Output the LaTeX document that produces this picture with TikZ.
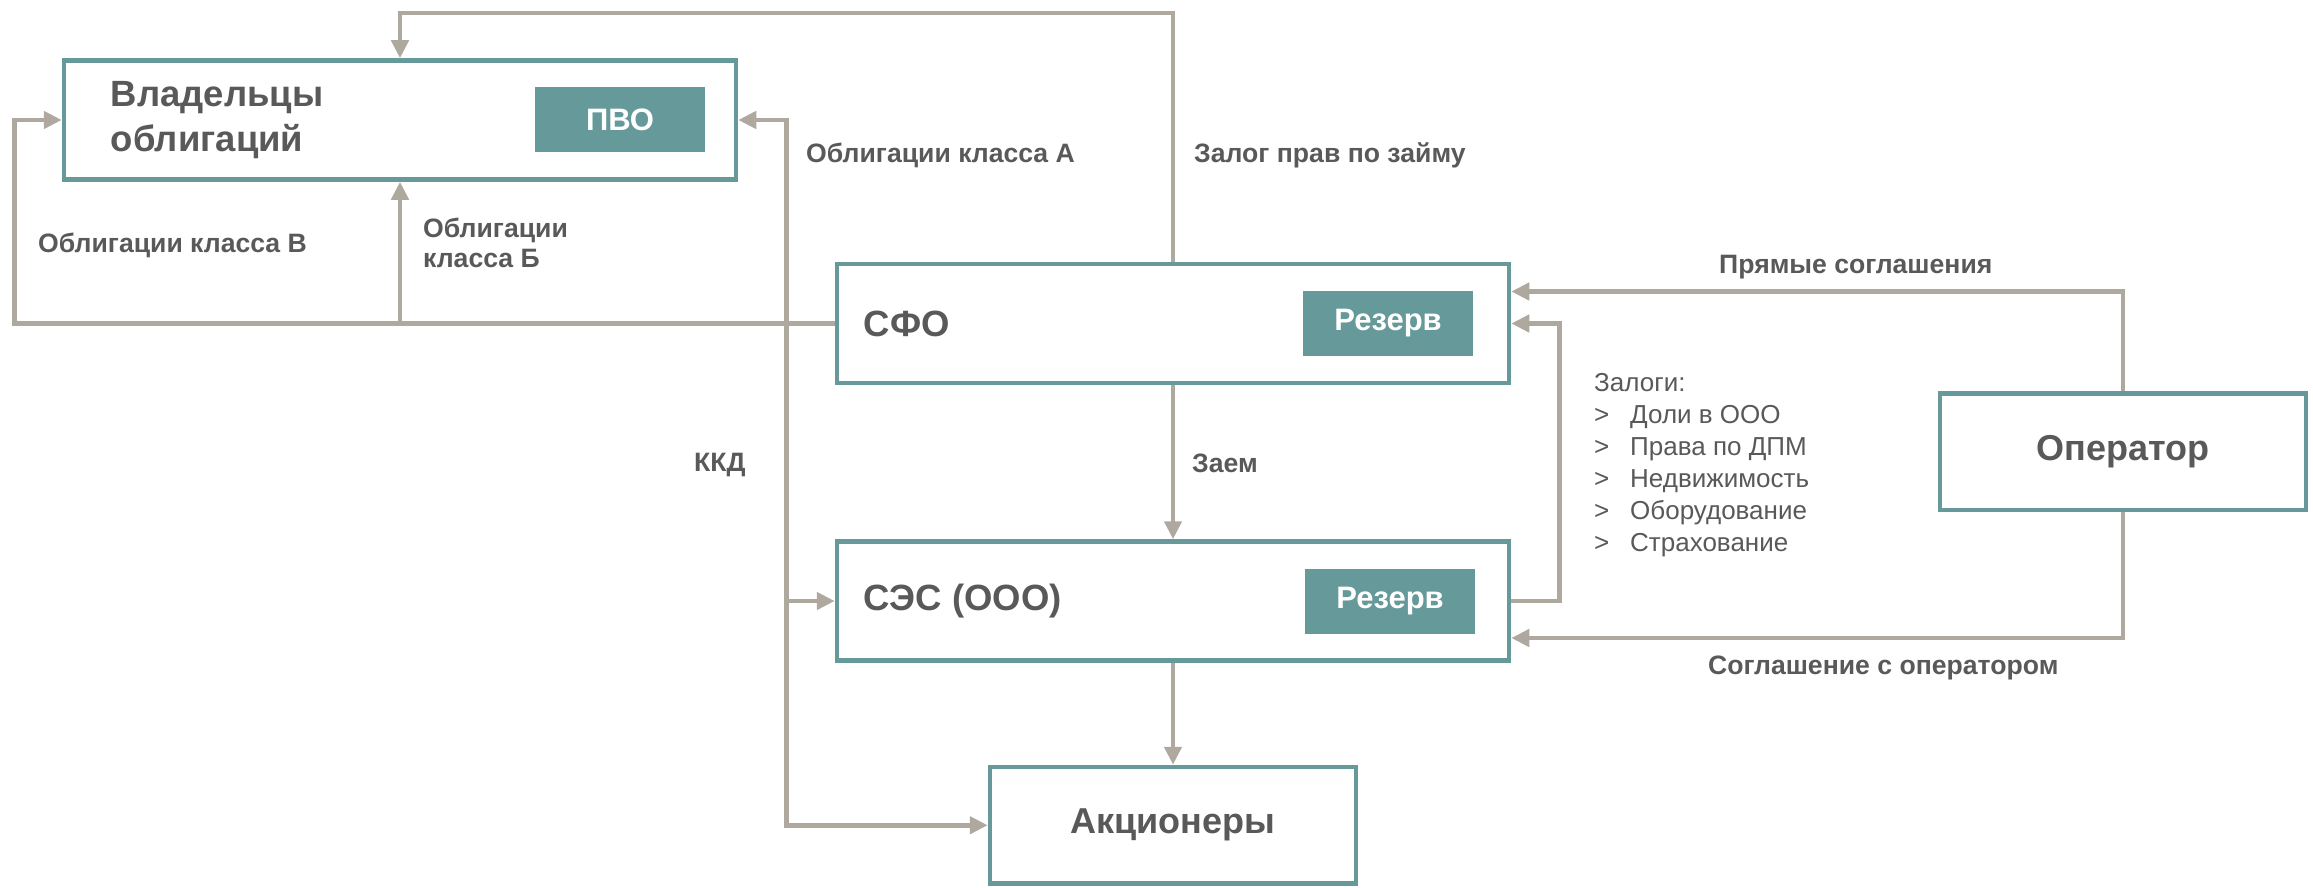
\documentclass[tikz,border=0pt]{standalone}
\usepackage{fontspec}
\setmainfont{Liberation Sans}
\usepackage{xcolor}
\usetikzlibrary{arrows.meta,positioning,calc}

\definecolor{tealbox}{RGB}{102,153,153}
\definecolor{flowgray}{RGB}{174,168,159}
\definecolor{txtgray}{RGB}{89,89,89}

\newcommand{\zmark}{\makebox[36pt][l]{\mdseries >}}

\begin{document}
\begin{tikzpicture}[
    x=1pt, y=-1pt,
    text=txtgray,
    box/.style   = {draw=tealbox, line width=4.5pt, fill=white, inner sep=0pt},
    party/.style = {box, minimum width=672pt, minimum height=119pt},
    small/.style = {box, minimum width=366pt, minimum height=116.5pt,
                    font=\fontsize{36}{43}\selectfont\bfseries},
    resv/.style  = {fill=tealbox, text=white, minimum width=170pt,
                    minimum height=65pt, inner sep=0pt,
                    font=\fontsize{31}{37}\selectfont\bfseries},
    title/.style = {inner sep=0pt, align=left,
                    font=\fontsize{36.5}{45}\selectfont\bfseries},
    lbl/.style   = {inner sep=0pt, align=left, anchor=west,
                    font=\fontsize{26.6}{30}\selectfont\bfseries},
    lst/.style   = {inner sep=0pt, align=left, anchor=west,
                    font=\fontsize{26}{32}\selectfont},
    arr/.style   = {-{Triangle[length=18pt,width=17pt]}, line width=4.7pt, flowgray},
]
\useasboundingbox (0,0) rectangle (2313,888);

% ============ Row 1: bond holders ============
\node[party] (own) at (400,120) {};
\node[title, right=49pt of own.west] (ownt) {Владельцы\\облигаций};
\node[resv, left=33pt of own.east] (pvo) {ПВО};

% ============ Row 2: SPV ============
\node[party] (sfo) at (1173,323.5) {};
\node[title, right=29pt of sfo.west] (sfot) {СФО};
\node[resv, left=38pt of sfo.east] (sfores) {Резерв};

% ============ Row 3: solar plant ============
\node[party, below=154pt of sfo] (ses) {};
\node[title, right=29pt of ses.west] (sest) {СЭС (ООО)};
\node[resv, left=36pt of ses.east] (sesres) {Резерв};

% ============ Row 4: shareholders, operator ============
\node[small, below=102pt of ses] (share) {Акционеры};
\node[small] (oper) at (2123,451.5) {Оператор};

% ============ flows ============
\coordinate (topy) at (0,13);
\coordinate (jn) at ([xshift=-48pt]sfo.west);

\draw[arr] (sfo.north) -- (sfo.north |- topy) -| (own.north);
\draw[arr] (sfo.west) -| ([xshift=-47pt]own.west) -- (own.west);
\draw[arr] (sfo.west) -| (own.south);
\draw[arr] (jn) |- (own.east);
\draw[arr] (jn) |- (ses.west);
\draw[arr] (jn) |- (share.west);

\draw[arr] (sfo.south) -- (ses.north);
\draw[arr] (ses.south) -- (share.north);

\draw[arr] (oper.north) |- ([yshift=32pt]sfo.east);
\draw[arr] (ses.east) -- ++(48,0) |- (sfo.east);
\draw[arr] (oper.south) |- ([yshift=-37pt]ses.east);

% ============ labels ============
\node[lbl] (lbv) at (38,245) {Облигации класса В};
\node[lbl] (lbb) at (423,243) {Облигации\\класса Б};
\node[lbl] (lba) at (806,155) {Облигации класса А};
\node[lbl] (lbz) at (1194,155) {Залог прав по займу};
\node[lbl] (lbk) at (694,465) {ККД};
\node[lbl] (lbl) at (1192,463) {Заем};
\node[lbl] (lbp) at (1719,267) {Прямые соглашения};
\node[lbl] (lbo) at (1708,668) {Соглашение с оператором};

\node[lst] (zal) at (1594,465)
    {Залоги:\\
     \zmark Доли в ООО\\
     \zmark Права по ДПМ\\
     \zmark Недвижимость\\
     \zmark Оборудование\\
     \zmark Страхование};

\end{tikzpicture}
\end{document}
